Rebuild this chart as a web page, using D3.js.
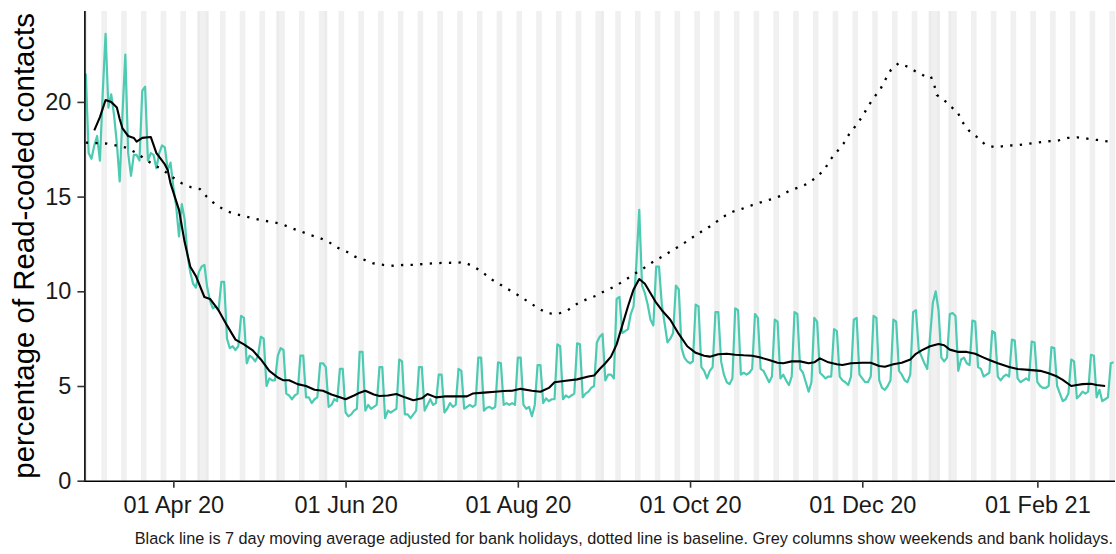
<!DOCTYPE html>
<html><head><meta charset="utf-8">
<script src="https://cdn.jsdelivr.net/npm/d3@7"></script>
<style>
body{margin:0;background:#fff}
svg{display:block}
text{font-family:"Liberation Sans",Arial,Helvetica,sans-serif}
</style>
</head><body>
<svg id="chart" width="1116" height="554"></svg>
<script>
// ---------------- data ----------------
const startDate = "2020-03-01";   // first day of the daily series (day offset 0)
// daily percentage of Read-coded contacts, 01 Mar 2020 .. 28 Feb 2021 (Sun..Sat rows)
const dailyPct = [
 21.5,17.3,17.0,17.7,18.2,16.9,20.5,
 23.6,19.7,20.4,19.3,17.8,15.8,19.4,
 22.5,17.3,16.1,17.2,17.2,16.9,20.6,
 20.8,16.9,17.3,17.2,16.5,17.3,17.7,
 17.6,16.4,16.8,15.5,14.5,12.9,14.6,
 13.8,11.9,11.0,10.4,10.2,11.0,11.3,
 11.4,10.2,9.5,9.1,9.2,9.0,10.5,
 10.5,7.5,7.0,7.1,6.9,7.1,8.7,
 8.6,6.2,6.6,6.5,6.3,6.6,7.6,
 7.5,5.0,5.4,5.3,5.3,6.6,7.0,
 6.9,4.6,4.5,4.3,4.5,4.6,6.6,
 6.6,4.4,4.4,4.1,4.3,4.4,6.2,
 6.2,6.0,3.9,4.0,4.3,4.2,5.9,
 5.9,3.6,3.4,3.5,3.7,3.8,6.8,
 6.8,3.7,4.0,3.8,3.9,4.0,6.0,
 6.0,3.3,3.7,3.6,3.7,3.8,6.4,
 6.3,3.5,3.5,3.3,3.5,3.7,6.0,
 6.0,3.7,4.0,4.3,4.0,4.1,5.6,
 5.6,3.6,3.8,4.1,3.9,4.0,5.9,
 5.8,3.8,3.9,4.0,3.9,4.0,6.5,
 6.5,3.7,3.85,3.9,3.8,3.9,6.25,
 6.2,4.0,4.1,4.0,4.1,4.0,6.5,
 6.5,4.0,3.8,3.9,3.4,4.0,6.1,
 6.1,4.1,4.35,4.2,4.3,4.3,7.2,
 7.1,4.3,4.5,4.4,4.5,4.6,7.25,
 7.2,4.4,4.6,4.7,4.9,5.0,7.3,
 7.6,7.75,5.3,5.6,5.6,5.4,9.6,
 9.7,7.8,7.9,8.0,8.8,9.2,11.5,
 14.3,10.3,9.9,9.3,8.5,8.2,11.3,
 11.3,9.3,8.3,7.3,7.5,7.8,10.3,
 10.1,7.0,6.5,6.3,6.2,6.3,9.3,
 9.2,6.0,5.8,5.4,5.8,6.0,8.9,
 8.9,6.3,5.6,5.2,5.1,5.4,9.1,
 9.0,5.6,5.7,5.6,5.7,5.9,8.8,
 8.6,5.9,5.8,5.5,5.2,5.5,8.5,
 8.4,5.4,5.6,5.3,5.05,5.5,8.9,
 8.8,5.9,5.7,5.2,4.7,5.2,8.6,
 8.4,5.7,5.55,5.4,5.5,5.5,8.0,
 7.9,5.5,5.3,5.2,5.05,5.5,8.5,
 8.6,5.6,5.4,5.2,5.2,5.5,8.7,
 8.6,5.3,4.9,4.8,5.0,5.3,8.5,
 8.4,5.8,5.6,5.3,5.2,5.6,8.9,
 9.0,6.9,6.55,6.2,5.9,7.6,9.4,
 10.0,9.0,6.5,6.3,6.5,8.8,8.85,
 8.7,5.8,6.4,6.5,6.2,6.1,8.45,
 8.4,6.0,5.9,5.5,5.6,5.7,7.9,
 7.8,5.5,5.3,5.5,5.6,5.5,7.45,
 7.4,5.4,5.2,5.3,5.4,5.3,7.35,
 7.3,5.2,5.0,4.9,4.9,5.0,7.05,
 7.0,5.0,4.6,4.2,4.3,4.6,6.4,
 6.3,4.35,4.5,4.7,4.6,4.7,6.65,
 6.6,4.4,4.8,4.2,4.3,4.4,6.2,
 6.25
];
// 7 day moving average adjusted for bank holidays (day offset, value)
const maDay = [3,5,7,9,11,12,13,15,17,18,20,23,25,28,29,30,33,35,37,39,42,44,47,50,53,56,59,62,65,68,70,72,75,78,81,84,87,90,92,95,97,99,102,104,107,110,113,116,119,121,124,127,131,135,137,141,145,148,151,154,158,161,164,166,170,174,178,180,182,184,186,188,190,192,194,196,198,200,202,204,207,210,213,216,219,221,224,227,230,233,236,239,242,245,247,250,253,256,258,260,263,266,268,271,275,278,281,283,286,289,292,294,296,299,302,304,306,309,312,315,318,320,323,327,330,334,338,341,344,346,349,351,353,356,358,361];
const maPct = [18.5,19.2,20.1,20.0,19.7,19.1,18.6,18.2,18.1,17.9,18.1,18.15,17.3,16.7,16.4,15.7,14.3,12.6,11.3,10.8,9.7,9.6,9.0,8.2,7.45,7.2,6.9,6.4,5.8,5.45,5.3,5.3,5.1,5.0,4.8,4.75,4.55,4.4,4.3,4.5,4.65,4.75,4.55,4.47,4.5,4.58,4.4,4.25,4.35,4.58,4.4,4.45,4.45,4.45,4.6,4.65,4.7,4.74,4.75,4.85,4.75,4.7,4.9,5.2,5.28,5.35,5.5,5.55,5.9,6.2,6.55,7.2,8.2,9.2,10.1,10.65,10.4,9.9,9.4,9.0,8.5,7.75,7.1,6.75,6.6,6.55,6.68,6.7,6.65,6.62,6.6,6.5,6.37,6.23,6.2,6.3,6.3,6.2,6.25,6.46,6.25,6.15,6.11,6.2,6.23,6.23,6.06,6.02,6.15,6.23,6.4,6.7,6.88,7.1,7.22,7.15,6.92,6.8,6.8,6.7,6.5,6.37,6.2,6.0,5.9,5.85,5.8,5.67,5.5,5.32,5.0,5.05,5.1,5.12,5.05,5.0];
// baseline (day offset, value)
const baseDay = [0,7.4,13.9,18,21,24.2,27.4,30.4,34,37.2,40.4,42.8,45.8,48.7,52.2,55.8,59.3,62.9,65.8,69.4,72.9,75.9,79.4,82.3,85.9,88.9,92.4,95.3,98.9,101.8,105.4,108.9,112.4,116,119.5,123.1,126.6,130.2,134,137.5,140.6,143.4,146.4,150,153.4,157,160.3,163.5,167,170.5,173.9,177.4,180.8,183.9,187.2,190.4,193.7,197.2,200.4,203.4,206.9,209.8,213.2,216.4,219.7,222.9,225.8,229.1,232.3,235.8,239.1,242.7,245.9,249.2,252.6,255.9,258.6,261.5,263.6,266,268.3,270.3,272.8,275.2,277.1,279.2,281.5,283.3,285.1,287.8,291.1,294,297,299.2,300.5,301.4,303.7,306.1,308.7,310.4,312.8,315.5,318.7,322.4,325.9,329.7,333.2,336.8,340.5,344.1,347.8,351.2,354.7,358.2,361.8,364];
const basePct = [17.85,17.8,17.6,17.3,16.97,16.67,16.4,16.05,15.7,15.5,15.4,15.0,14.6,14.33,14.1,13.98,13.85,13.73,13.67,13.55,13.33,13.18,12.97,12.85,12.62,12.32,12.09,11.83,11.65,11.48,11.39,11.35,11.39,11.4,11.44,11.48,11.5,11.51,11.53,11.3,11.0,10.65,10.39,10.07,9.77,9.42,9.1,8.84,8.8,8.98,9.33,9.58,9.77,10.03,10.24,10.54,10.86,11.18,11.51,11.77,12.09,12.35,12.67,13.01,13.29,13.62,13.94,14.2,14.35,14.54,14.7,14.86,15.03,15.31,15.49,15.7,16.02,16.4,16.93,17.37,17.78,18.29,18.76,19.27,19.78,20.24,20.7,21.21,21.68,22.04,21.86,21.6,21.37,21.37,20.89,20.36,20.14,19.78,19.48,18.95,18.48,18.16,17.72,17.6,17.69,17.71,17.78,17.85,17.92,17.95,18.1,18.13,18.06,17.99,17.92,17.88];
const bankHolidays = ["2020-04-10","2020-04-13","2020-05-08","2020-05-25","2020-08-31","2020-12-25","2020-12-28","2021-01-01"];
const xTickDates = ["2020-04-01","2020-06-01","2020-08-01","2020-10-01","2020-12-01","2021-02-01"];
const yTickValues = [0,5,10,15,20];
const yTitle = "percentage of Read-coded contacts";
const caption = "Black line is 7 day moving average adjusted for bank holidays, dotted line is baseline. Grey columns show weekends and bank holidays.";

// ---------------- chart ----------------
const parse = d3.utcParse("%Y-%m-%d");
const t0 = parse(startDate);
const DAY = 864e5;
const at = d => new Date(t0.getTime() + d * DAY);
const nDays = dailyPct.length;

const L = 84.4, R = 1115, T = 11, B = 480.7;
const svg = d3.select("#chart");
const x = d3.scaleUtc().domain([at(-0.5), at(nDays - 0.5)]).range([L, R]);
const y = d3.scaleLinear().domain([0, 24.8]).range([B, T]);

// grey columns
const holSet = new Set(bankHolidays);
const fmtKey = d3.utcFormat("%Y-%m-%d");
const shaded = d3.range(nDays).filter(i => {
  const dt = at(i); const wd = dt.getUTCDay();
  return wd === 0 || wd === 6 || holSet.has(fmtKey(dt));
});
svg.append("g").selectAll("rect").data(shaded).join("rect")
  .attr("x", i => x(at(i - 0.5)))
  .attr("width", i => x(at(i + 0.5)) - x(at(i - 0.5)))
  .attr("y", T).attr("height", B - T)
  .attr("fill", "#000")
  .attr("fill-opacity", i => holSet.has(fmtKey(at(i))) ? 0.08 : 0.058);

// teal daily line
const line = d3.line().x(d => x(d[0])).y(d => y(d[1]));
svg.append("path")
  .datum(dailyPct.map((v, i) => [at(i), v]))
  .attr("d", line).attr("fill", "none")
  .attr("stroke", "#4dcab2").attr("stroke-width", 2.2).attr("stroke-linejoin", "round");

// black moving average
svg.append("path")
  .datum(maDay.map((d, i) => [at(d), maPct[i]]))
  .attr("d", line).attr("fill", "none")
  .attr("stroke", "#000").attr("stroke-width", 2.1).attr("stroke-linejoin", "round");

// dotted baseline
svg.append("path")
  .datum(baseDay.map((d, i) => [at(d), basePct[i]]))
  .attr("d", line).attr("fill", "none")
  .attr("stroke", "#000").attr("stroke-width", 2.3)
  .attr("stroke-dasharray", "2.3,7.3");

// axes
const fmt = d3.utcFormat("%d %b %y");
const xAxis = svg.append("g").attr("transform", `translate(0,${B})`)
  .call(d3.axisBottom(x).tickValues(xTickDates.map(parse)).tickFormat(fmt)
        .tickSize(7).tickSizeOuter(0).tickPadding(9));
const yAxis = svg.append("g").attr("transform", `translate(${L},0)`)
  .call(d3.axisLeft(y).tickValues(yTickValues).tickSize(7).tickSizeOuter(0).tickPadding(6));
[xAxis, yAxis].forEach(g => {
  g.select(".domain").attr("stroke", "#000").attr("stroke-width", 1.6);
  g.selectAll(".tick line").attr("stroke", "#333").attr("stroke-width", 1.6);
  g.selectAll(".tick text").attr("fill", "#1a1a1a").style("font-size", "23.5px")
   .style("font-family", '"Liberation Sans",Arial,sans-serif');
});
xAxis.select(".domain").attr("d", `M${L - 0.8},0.5H${R}`);
yAxis.select(".domain").attr("d", `M0.5,${B}V${T}`);

// y title
svg.append("text")
  .attr("transform", `translate(34,${(T + B) / 2}) rotate(-90)`)
  .attr("text-anchor", "middle").attr("fill", "#000")
  .style("font-size", "29.4px").text(yTitle);

// caption
svg.append("text").attr("x", 1113).attr("y", 544)
  .attr("text-anchor", "end").attr("fill", "#1a1a1a")
  .style("font-size", "16.25px").text(caption);
</script>
</body></html>
